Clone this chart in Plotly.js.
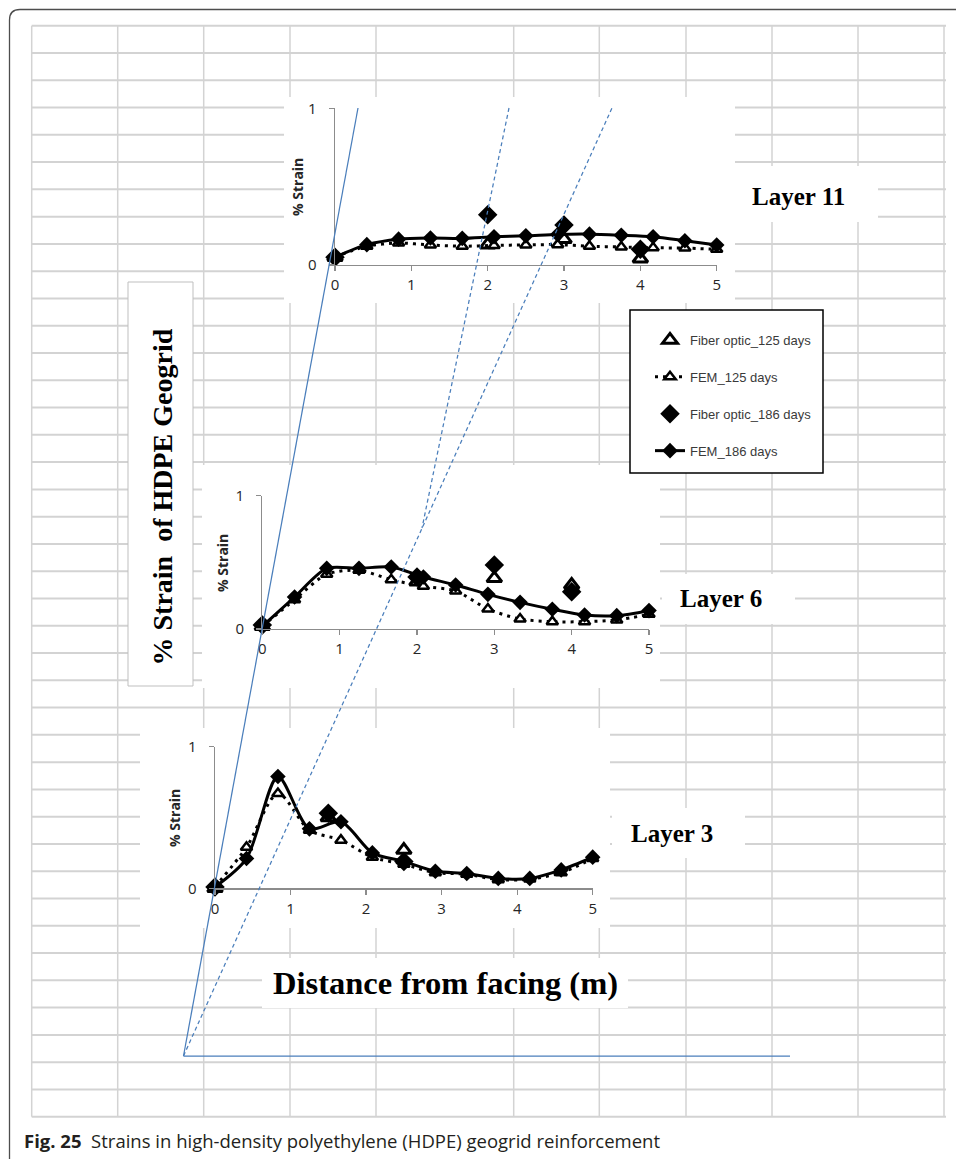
<!DOCTYPE html>
<html>
<head>
<meta charset="utf-8">
<script src="https://cdn.plot.ly/plotly-3.0.1.min.js"></script>
<style>html,body{margin:0;padding:0;background:#fff;}#chart{width:956px;height:1159px;}</style>
</head>
<body>
<div id="chart"></div>
<script>
// ---------------- DATA ----------------
const femX = [0, 0.417, 0.833, 1.25, 1.667, 2.083, 2.5, 2.917, 3.333, 3.75, 4.167, 4.583, 5];

// Layer 11
const l11Fem186 = [0.05, 0.13, 0.165, 0.172, 0.17, 0.18, 0.186, 0.195, 0.197, 0.19, 0.18, 0.155, 0.128];
const l11Fem125 = [0.05, 0.12, 0.14, 0.128, 0.12, 0.125, 0.128, 0.13, 0.12, 0.115, 0.11, 0.108, 0.10];
const l11FoX = [0, 2, 3, 4];
const l11Fo186 = [0.05, 0.32, 0.255, 0.10];
const l11Fo125 = [0.05, 0.13, 0.165, 0.04];

// Layer 6
const l6Fem186 = [0.02, 0.24, 0.455, 0.455, 0.465, 0.39, 0.33, 0.26, 0.2, 0.148, 0.105, 0.1, 0.138];
const l6Fem125 = [0.02, 0.22, 0.41, 0.44, 0.37, 0.32, 0.285, 0.15, 0.075, 0.055, 0.055, 0.068, 0.11];
const l6FoX = [0, 2, 3, 4];
const l6Fo186 = [0.03, 0.39, 0.48, 0.28];
const l6Fo125 = [0.02, 0.355, 0.38, 0.33];

// Layer 3
const l3Fem186 = [0.01, 0.21, 0.79, 0.42, 0.47, 0.25, 0.19, 0.12, 0.105, 0.07, 0.07, 0.13, 0.22];
const l3Fem125 = [0.01, 0.29, 0.67, 0.41, 0.34, 0.22, 0.17, 0.11, 0.10, 0.06, 0.065, 0.11, 0.21];
const l3FoX = [0, 1.5, 2.5];
const l3Fo186 = [0.01, 0.53, 0.19];
const l3Fo125 = [0.0, 0.50, 0.27];

const seriesNames = ['Fiber optic_125 days', 'FEM_125 days', 'Fiber optic_186 days', 'FEM_186 days'];
const xTicks = [0, 1, 2, 3, 4, 5];
const yTicks = [0, 1];
const layerLabels = ['Layer 11', 'Layer 6', 'Layer 3'];
const yTitle = '% Strain\u00a0\u00a0of HDPE Geogrid';
const xTitle = 'Distance from facing (m)';
const panelYTitle = '% Strain';
const caption = '<b>Fig. 25</b>\u00a0 Strains in high-density polyethylene (HDPE) geogrid reinforcement';

// ---------------- LAYOUT HELPERS ----------------
const W = 956, H = 1159;
const X = p => p / W;
const Y = p => 1 - p / H;

function makeTraces(ax, ay, foX, fo125, fem125, fo186, fem186, legend) {
  return [
    {x: foX, y: fo125, xaxis: ax, yaxis: ay, name: seriesNames[0], legendgroup: 'a', showlegend: legend,
     mode: 'markers', cliponaxis: false,
     marker: {symbol: 'triangle-up', size: 13, color: '#fff', line: {color: '#000', width: 3}}},
    {x: femX, y: fem125, xaxis: ax, yaxis: ay, name: seriesNames[1], legendgroup: 'b', showlegend: legend,
     mode: 'lines+markers', cliponaxis: false,
     line: {color: '#000', width: 3, dash: '3px,5px', shape: 'spline', smoothing: 0.8},
     marker: {symbol: 'triangle-up', size: 10, color: '#fff', line: {color: '#000', width: 2.5}}},
    {x: foX, y: fo186, xaxis: ax, yaxis: ay, name: seriesNames[2], legendgroup: 'c', showlegend: legend,
     mode: 'markers', cliponaxis: false,
     marker: {symbol: 'diamond', size: 15, color: '#000'}},
    {x: femX, y: fem186, xaxis: ax, yaxis: ay, name: seriesNames[3], legendgroup: 'd', showlegend: legend,
     mode: 'lines+markers', cliponaxis: false,
     line: {color: '#000', width: 3, shape: 'spline', smoothing: 0.8},
     marker: {symbol: 'diamond', size: 12, color: '#000'}}
  ];
}

const data = [].concat(
  makeTraces('x', 'y', l11FoX, l11Fo125, l11Fem125, l11Fo186, l11Fem186, true),
  makeTraces('x2', 'y2', l6FoX, l6Fo125, l6Fem125, l6Fo186, l6Fem186, false),
  makeTraces('x3', 'y3', l3FoX, l3Fo125, l3Fem125, l3Fo186, l3Fem186, false)
);

const tickFont = {family: 'Open Sans, Liberation Sans, sans-serif', size: 15, color: '#262626'};
function xAx(d0, d1, anchor) {
  return {domain: [X(d0), X(d1)], anchor: anchor, range: [0, 5], tickvals: xTicks, showgrid: false,
    zeroline: false, showline: true, linecolor: '#8c8c8c', linewidth: 1.3, ticks: 'outside', ticklen: 5,
    tickcolor: '#8c8c8c', tickwidth: 1.3, tickfont: tickFont, fixedrange: true, ticklabelstandoff: 1};
}
function yAx(d0, d1, anchor) {
  return {domain: [Y(d0), Y(d1)], anchor: anchor, range: [0, 1], tickvals: yTicks, showgrid: true,
    gridcolor: '#8c8c8c', gridwidth: 1.3, zeroline: false, showline: true, linecolor: '#8c8c8c', linewidth: 1.3,
    ticks: 'outside', ticklen: 5, tickcolor: '#8c8c8c', tickwidth: 1.3, tickfont: tickFont,
    fixedrange: true, ticklabelstandoff: 9};
}

// ---------------- SHAPES ----------------
const shapes = [];
const gridCols = [31.7, 117.7, 203.7, 290, 376, 513.7, 599.3, 686, 772, 858, 944];
const gridTop = 25.7, rowH = 27.275, nRows = 40;
const gridBottom = gridTop + rowH * nRows;
gridCols.forEach(gx => shapes.push({type: 'line', xref: 'paper', yref: 'paper', layer: 'below',
  x0: X(gx), x1: X(gx), y0: Y(gridTop), y1: Y(gridBottom), line: {color: '#d3d3d3', width: 1.5}}));
for (let k = 0; k <= nRows; k++) {
  const gy = gridTop + rowH * k;
  shapes.push({type: 'line', xref: 'paper', yref: 'paper', layer: 'below',
    x0: X(31.7), x1: X(946), y0: Y(gy), y1: Y(gy), line: {color: '#d3d3d3', width: 2}});
}
function box(x0, y0, x1, y1, lineColor, lw) {
  shapes.push({type: 'rect', xref: 'paper', yref: 'paper', layer: 'below',
    x0: X(x0), x1: X(x1), y0: Y(y1), y1: Y(y0), fillcolor: '#fff',
    line: {color: lineColor || 'rgba(0,0,0,0)', width: lw || 0}});
}
box(284, 97, 735, 303);          // top chart area
box(735, 166, 878, 222);         // Layer 11 label
box(202, 465, 660, 688);         // middle chart area
box(662, 574, 795, 624);         // Layer 6 label
box(140, 728, 610, 928);         // bottom chart area
box(612, 808, 745, 858);         // Layer 3 label
box(262, 958, 628, 1008);        // x title
box(128, 282, 193, 686, '#bfbfbf', 1);  // y title box
box(630, 310, 823, 473, '#000', 1.5);   // legend box

// frame
shapes.push({type: 'path', xref: 'paper', yref: 'paper', layer: 'below',
  path: `M ${X(9.5)},${Y(1165)} L ${X(9.5)},${Y(20)} Q ${X(9.5)},${Y(9.5)} ${X(20)},${Y(9.5)} L ${X(960)},${Y(9.5)}`,
  line: {color: '#4d4d4d', width: 1.3}});

// blue construction lines
const blue = '#4a7ebb';
function bl(x0, y0, x1, y1, dash) {
  shapes.push({type: 'line', xref: 'paper', yref: 'paper', layer: 'above',
    x0: X(x0), y0: Y(y0), x1: X(x1), y1: Y(y1), line: {color: blue, width: 1.25, dash: dash || 'solid'}});
}
bl(183.5, 1056, 358, 108);
bl(183.5, 1056, 612, 108, '4px,3px');
bl(509, 108, 422, 528, '4px,3px');
bl(183.5, 1056, 790, 1056);

// ---------------- ANNOTATIONS ----------------
const annotations = [];
function ann(text, x, y, font, extra) {
  annotations.push(Object.assign({text: text, x: X(x), y: Y(y), xref: 'paper', yref: 'paper',
    showarrow: false, xanchor: 'center', yanchor: 'middle', font: font}, extra || {}));
}
const panelTitleFont = {family: 'Open Sans, Liberation Sans, sans-serif', size: 14, color: '#262626', weight: 'bold'};
ann(panelYTitle, 298, 187, panelTitleFont, {textangle: -90});
ann(panelYTitle, 222, 563, panelTitleFont, {textangle: -90});
ann(panelYTitle, 174, 818, panelTitleFont, {textangle: -90});
const serifBold = s => ({family: 'Liberation Serif, Times New Roman, serif', size: s, color: '#000', weight: 'bold'});
ann(layerLabels[0], 798, 196, serifBold(25));
ann(layerLabels[1], 721, 598, serifBold(25));
ann(layerLabels[2], 672, 833, serifBold(25));
ann(xTitle, 445, 983, serifBold(32.5));
ann(yTitle, 161.5, 497, serifBold(28), {textangle: -90});
ann(caption, 22, 1140, {family: 'Open Sans, sans-serif', size: 18.5, color: '#231f20'}, {xanchor: 'left'});

const layout = {
  width: W, height: H, autosize: false,
  margin: {l: 0, r: 0, t: 0, b: 0, pad: 0},
  paper_bgcolor: '#fff', plot_bgcolor: 'rgba(0,0,0,0)',
  showlegend: true,
  legend: {x: X(650), y: Y(325), xanchor: 'left', yanchor: 'top', bgcolor: 'rgba(0,0,0,0)', borderwidth: 0,
    font: {family: 'Liberation Sans Narrow, Liberation Sans, sans-serif', size: 13, color: '#3a3a3a'},
    tracegroupgap: 17, itemwidth: 30, traceorder: 'grouped'},
  xaxis: xAx(335, 716.7, 'y'), yaxis: yAx(265, 108.3, 'x'),
  xaxis2: xAx(262.3, 649, 'y2'), yaxis2: yAx(629, 495.7, 'x2'),
  xaxis3: xAx(215, 592.7, 'y3'), yaxis3: yAx(888.3, 746.7, 'x3'),
  shapes: shapes, annotations: annotations
};

Plotly.newPlot('chart', data, layout, {staticPlot: true, displayModeBar: false});
</script>
</body>
</html>
